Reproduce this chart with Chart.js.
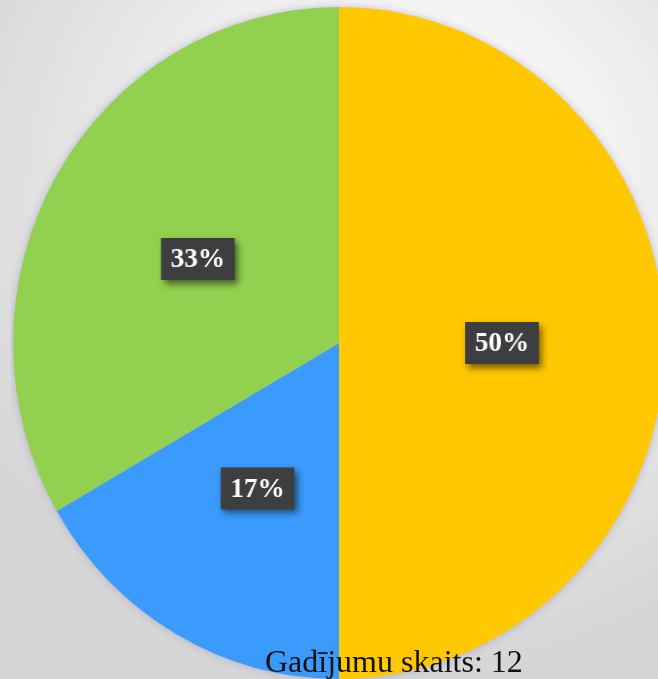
<!DOCTYPE html>
<html>
<head>
<meta charset="utf-8">
<script src="https://cdn.jsdelivr.net/npm/chart.js@4/dist/chart.umd.min.js"></script>
<style>
  html, body {
    margin: 0;
    padding: 0;
    width: 658px;
    height: 679px;
    overflow: hidden;
  }
  body {
    position: relative;
    background: radial-gradient(ellipse 75% 70% at 62% 28%, #ffffff 0%, #f6f6f6 35%, #e4e4e4 70%, #d6d6d6 100%);
  }
  #wrap {
    position: absolute;
    left: 0;
    top: 0;
    width: 700px;
    height: 700px;
    /* the reference pie is a little taller than wide */
    transform: scaleX(0.97);
    transform-origin: 339px 343px;
  }
  #caption {
    position: absolute;
    left: 265px;
    top: 645px;
    font: 32px/32px "Liberation Serif", "Times New Roman", serif;
    color: #111111;
    white-space: nowrap;
  }
</style>
</head>
<body>
<div id="wrap"><canvas id="pieChart"></canvas></div>
<div id="caption"></div>
<script>
const labels = ["A", "B", "C"]
const caseCounts = [6, 2, 4]
const sliceColors = ["#FFC800", "#3A9BFC", "#92D050"]
const captionText = "Gadījumu skaits: 12"

const total = caseCounts.reduce((a, b) => a + b, 0)
document.getElementById('caption').textContent = captionText

// soft halo under the pie + dark boxes with the percentages
const labelBoxes = {
  id: 'labelBoxes',
  beforeDatasetsDraw(chart) {
    const arc = chart.getDatasetMeta(0).data[0]
    if (!arc) return
    const ctx = chart.ctx
    ctx.save()
    ctx.shadowColor = 'rgba(110, 100, 170, 0.45)'
    ctx.shadowBlur = 10
    ctx.fillStyle = '#cccccc'
    ctx.beginPath()
    ctx.arc(arc.x, arc.y, arc.outerRadius - 1, 0, Math.PI * 2)
    ctx.fill()
    ctx.restore()
  },
  afterDatasetsDraw(chart) {
    const ctx = chart.ctx
    const meta = chart.getDatasetMeta(0)
    ctx.save()
    ctx.font = 'bold 28px "Liberation Serif", "Times New Roman", serif'
    ctx.textAlign = 'center'
    ctx.textBaseline = 'middle'
    meta.data.forEach((arc, i) => {
      const pos = arc.tooltipPosition()
      const txt = Math.round(caseCounts[i] / total * 100) + '%'
      const w = ctx.measureText(txt).width + 20
      const h = 42
      ctx.save()
      ctx.shadowColor = 'rgba(0, 0, 0, 0.55)'
      ctx.shadowBlur = 7
      ctx.shadowOffsetX = 3
      ctx.shadowOffsetY = 4
      ctx.fillStyle = '#3e3e40'
      ctx.fillRect(pos.x - w / 2, pos.y - h / 2, w, h)
      ctx.restore()
      ctx.fillStyle = '#ffffff'
      ctx.fillText(txt, pos.x, pos.y + 1)
    })
    ctx.restore()
  }
}

const ctx = document.getElementById('pieChart').getContext('2d')

new Chart(ctx, {
  type: 'pie',
  data: {
    labels: labels,
    datasets: [{
      data: caseCounts,
      backgroundColor: sliceColors,
      borderWidth: 0,
      hoverOffset: 0
    }]
  },
  options: {
    responsive: true,
    maintainAspectRatio: false,
    animation: false,
    layout: {
      padding: { left: 3, top: 7, right: 25, bottom: 21 }
    },
    plugins: {
      legend: { display: false },
      tooltip: { enabled: false }
    }
  },
  plugins: [labelBoxes]
})
</script>
</body>
</html>
